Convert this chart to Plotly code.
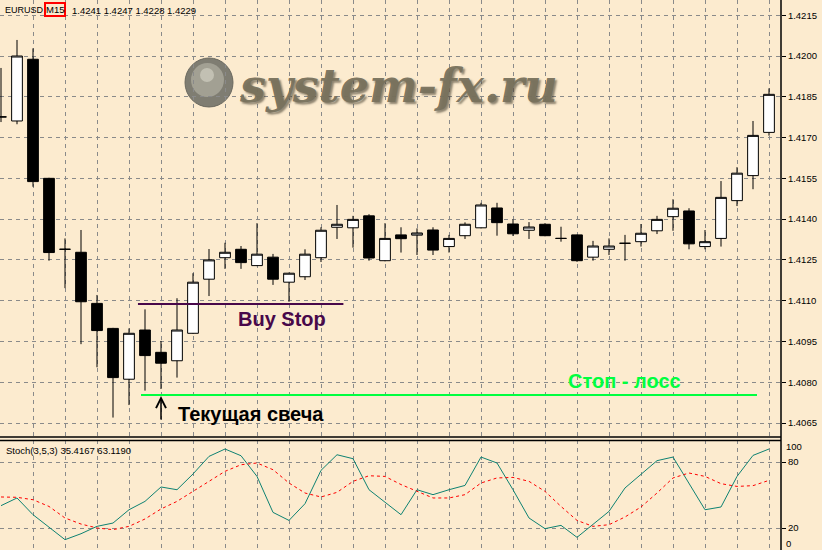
import plotly.graph_objects as go

# ---------------- data ----------------
candle_index = list(range(49))
opens = [1.41776, 1.41761, 1.41988, 1.41550, 1.41289, 1.41278, 1.41090, 1.40998, 1.40811, 1.40992,
         1.40910, 1.40879, 1.40980, 1.41179, 1.41258, 1.41289, 1.41229, 1.41260, 1.41168, 1.41188,
         1.41258, 1.41370, 1.41368, 1.41412, 1.41247, 1.41342, 1.41341, 1.41360, 1.41299, 1.41339,
         1.41368, 1.41441, 1.41382, 1.41359, 1.41381, 1.41329, 1.41342, 1.41260, 1.41289, 1.41311,
         1.41317, 1.41357, 1.41409, 1.41430, 1.41299, 1.41329, 1.41468, 1.41560, 1.41719]
highs = [1.41956, 1.42059, 1.42028, 1.41552, 1.41329, 1.41360, 1.41121, 1.41000, 1.40998, 1.41068,
         1.40952, 1.41109, 1.41201, 1.41290, 1.41313, 1.41301, 1.41385, 1.41272, 1.41203, 1.41289,
         1.41370, 1.41452, 1.41412, 1.41418, 1.41385, 1.41370, 1.41366, 1.41370, 1.41342, 1.41388,
         1.41460, 1.41460, 1.41399, 1.41389, 1.41385, 1.41372, 1.41343, 1.41320, 1.41329, 1.41342,
         1.41382, 1.41412, 1.41473, 1.41440, 1.41360, 1.41540, 1.41591, 1.41761, 1.41881]
lows = [1.41757, 1.41749, 1.41519, 1.41247, 1.41146, 1.40940, 1.40855, 1.40670, 1.40716, 1.40769,
        1.40775, 1.40817, 1.40978, 1.41117, 1.41217, 1.41217, 1.41227, 1.41158, 1.41096, 1.41176,
        1.41242, 1.41327, 1.41295, 1.41247, 1.41245, 1.41277, 1.41268, 1.41268, 1.41277, 1.41327,
        1.41366, 1.41339, 1.41338, 1.41327, 1.41337, 1.41317, 1.41243, 1.41247, 1.41268, 1.41247,
        1.41299, 1.41345, 1.41357, 1.41289, 1.41289, 1.41299, 1.41448, 1.41510, 1.41707]
closes = [1.41776, 1.42000, 1.41538, 1.41277, 1.41289, 1.41096, 1.40990, 1.40817, 1.40980, 1.40898,
          1.40870, 1.40992, 1.41168, 1.41250, 1.41278, 1.41240, 1.41271, 1.41179, 1.41201, 1.41271,
          1.41359, 1.41381, 1.41399, 1.41257, 1.41329, 1.41328, 1.41349, 1.41286, 1.41329, 1.41381,
          1.41452, 1.41387, 1.41346, 1.41371, 1.41339, 1.41329, 1.41247, 1.41301, 1.41301, 1.41311,
          1.41348, 1.41399, 1.41440, 1.41309, 1.41317, 1.41480, 1.41569, 1.41708, 1.41859]

stoch_main = [40.3, 47.3, 32.1, 20.9, 9.4, 14.8, 21.5, 24.5, 36.6, 44.2,
              57.3, 54.8, 69.1, 85.1, 91.8, 85.7, 66.9, 34.2, 26.9, 42.1,
              72.4, 86.6, 83.0, 54.8, 43.3, 32.1, 54.8, 50.3, 54.8, 58.7,
              84.5, 79.1, 54.8, 29.1, 19.4, 22.4, 11.5, 23.6, 35.1, 56.4,
              68.5, 81.2, 84.5, 60.9, 36.6, 39.1, 66.9, 86.0, 91.8]
stoch_signal = [48.2, 47.9, 45.7, 39.6, 29.1, 23.6, 20.0, 18.5, 21.5, 28.2,
                37.3, 44.2, 53.3, 62.4, 71.5, 77.5, 79.1, 73.0, 60.9, 51.8,
                48.2, 52.4, 62.4, 67.5, 66.9, 59.5, 53.3, 47.3, 47.3, 50.3,
                60.9, 65.5, 66.0, 62.4, 53.3, 39.6, 26.9, 21.5, 23.0, 30.0,
                39.1, 51.8, 65.5, 70.0, 66.9, 60.3, 57.8, 58.5, 63.3]

price_ticks = [1.4065, 1.4080, 1.4095, 1.4110, 1.4125, 1.4140, 1.4155, 1.4170, 1.4185, 1.4200, 1.4215]
price_tick_labels = ["1.4065", "1.4080", "1.4095", "1.4110", "1.4125", "1.4140",
                     "1.4155", "1.4170", "1.4185", "1.4200", "1.4215"]
stoch_ticks = [20, 80]
stoch_tick_labels = ["20", "80"]
x_grid = list(range(2, 49, 2))

buy_stop_level = 1.41088
buy_stop_span = (8.56, 21.4)
stop_loss_level = 1.40753
stop_loss_span = (8.75, 47.25)
current_candle = 10

header_symbol = "EURUSD"
header_tf = "M15"
header_prices = "1.4241 1.4247 1.4228 1.4229"
stoch_title = "Stoch(3,5,3) 35.4167 63.1190"

# ---------------- layout helpers ----------------
W, H = 822, 550
PLOT_W = 781
BG = "#FCEBCF"
GRID = "#8a8a8a"
FONT = "Liberation Sans"


def px(x):
    return x / PLOT_W


def py(y):
    return 1 - y / H


fig = go.Figure()

fig.add_trace(go.Candlestick(
    x=candle_index, open=opens, high=highs, low=lows, close=closes,
    increasing=dict(line=dict(color="black", width=1), fillcolor="white"),
    decreasing=dict(line=dict(color="black", width=1), fillcolor="black"),
    whiskerwidth=0, xaxis="x", yaxis="y", showlegend=False, hoverinfo="skip",
))

fig.add_trace(go.Scatter(
    x=candle_index, y=stoch_main, mode="lines",
    line=dict(color="#0E8272", width=1), xaxis="x2", yaxis="y2",
    showlegend=False, hoverinfo="skip",
))
fig.add_trace(go.Scatter(
    x=candle_index, y=stoch_signal, mode="lines",
    line=dict(color="#FF0000", width=1, dash="3px,3px"), xaxis="x2", yaxis="y2",
    showlegend=False, hoverinfo="skip",
))

xr = [-0.0625, 48.75]
common_x = dict(range=xr, tickvals=x_grid, showticklabels=False, showgrid=True,
                gridcolor=GRID, griddash="4px,4px", gridwidth=1, zeroline=False,
                showline=False, ticks="", fixedrange=True, automargin=False)

fig.update_layout(
    width=W, height=H,
    margin=dict(l=0, r=W - PLOT_W, t=0, b=0, autoexpand=False),
    paper_bgcolor=BG, plot_bgcolor=BG,
    boxgap=0.33, boxgroupgap=0,
    xaxis=dict(domain=[0, 1], anchor="y", rangeslider=dict(visible=False), **common_x),
    xaxis2=dict(domain=[0, 1], anchor="y2", **common_x),
    yaxis=dict(domain=[py(437), 1], range=[1.405985, 1.42206], side="right",
               tickvals=price_ticks, ticktext=price_tick_labels, automargin=False,
               showgrid=True, gridcolor=GRID, griddash="4px,4px", gridwidth=1,
               ticks="outside", ticklen=4, tickcolor="black", zeroline=False,
               tickfont=dict(family=FONT, size=9.5, color="black")),
    yaxis2=dict(domain=[0, py(440)], range=[0, 100], side="right",
                tickvals=stoch_ticks, ticktext=stoch_tick_labels, automargin=False,
                showgrid=True, gridcolor=GRID, griddash="4px,4px", gridwidth=1,
                ticks="outside", ticklen=4, tickcolor="black", zeroline=False,
                tickfont=dict(family=FONT, size=9.5, color="black")),
    font=dict(family=FONT),
)

shapes = []
# frame lines
shapes.append(dict(type="line", xref="paper", yref="paper", x0=1, x1=1, y0=0, y1=1,
                   line=dict(color="black", width=1.5)))
shapes.append(dict(type="line", xref="paper", yref="paper", x0=0, x1=1, y0=py(437), y1=py(437),
                   line=dict(color="black", width=1.5)))
shapes.append(dict(type="line", xref="paper", yref="paper", x0=0, x1=1, y0=py(440.5), y1=py(440.5),
                   line=dict(color="black", width=1.5)))
# Buy stop & stop loss lines
shapes.append(dict(type="line", xref="x", yref="y", x0=buy_stop_span[0], x1=buy_stop_span[1],
                   y0=buy_stop_level, y1=buy_stop_level, line=dict(color="#48084A", width=2)))
shapes.append(dict(type="line", xref="x", yref="y", x0=stop_loss_span[0], x1=stop_loss_span[1],
                   y0=stop_loss_level, y1=stop_loss_level, line=dict(color="#00FF40", width=2)))
# watermark globe
shapes.append(dict(type="circle", xref="paper", yref="paper", x0=px(185), x1=px(233),
                   y0=py(107), y1=py(58), layer="below", fillcolor="#7F7D72",
                   line=dict(color="#6c6a60", width=1)))
shapes.append(dict(type="circle", xref="paper", yref="paper", x0=px(191), x1=px(224),
                   y0=py(97), y1=py(63), layer="below", fillcolor="rgba(185,183,170,0.6)",
                   line=dict(width=0)))
shapes.append(dict(type="circle", xref="paper", yref="paper", x0=px(200), x1=px(214),
                   y0=py(82), y1=py(68), layer="below", fillcolor="rgba(215,213,200,0.6)",
                   line=dict(width=0)))
fig.update_layout(shapes=shapes)

ann = []
# header
ann.append(dict(xref="paper", yref="paper", x=px(4), y=py(10), xanchor="left", yanchor="middle",
                text=header_symbol, showarrow=False, borderpad=0,
                font=dict(family=FONT, size=9, color="black")))
ann.append(dict(xref="paper", yref="paper", x=px(44), y=py(9.5), xanchor="left", yanchor="middle",
                text=header_tf, showarrow=False, borderpad=0, bordercolor="#FF0000", borderwidth=2,
                font=dict(family=FONT, size=9.5, color="black")))
ann.append(dict(xref="paper", yref="paper", x=px(71), y=py(10), xanchor="left", yanchor="middle",
                text=header_prices, showarrow=False, borderpad=0,
                font=dict(family=FONT, size=9.5, color="black")))
ann.append(dict(xref="paper", yref="paper", x=px(4), y=py(450), xanchor="left", yanchor="middle",
                text=stoch_title, showarrow=False, font=dict(family=FONT, size=9.5, color="black")))
# stoch 100 / 0 labels
ann.append(dict(xref="paper", yref="y2", x=1, y=100, xanchor="left", yanchor="middle", xshift=3,
                yshift=-6, text="100", showarrow=False, font=dict(family=FONT, size=9.5, color="black")))
ann.append(dict(xref="paper", yref="y2", x=1, y=0, xanchor="left", yanchor="middle", xshift=3,
                yshift=7, text="0", showarrow=False, font=dict(family=FONT, size=9.5, color="black")))
# watermark
ann.append(dict(xref="paper", yref="paper", x=px(398), y=py(86), xanchor="center", yanchor="middle",
                text="<b><i>system-fx.ru</i></b>", showarrow=False,
                font=dict(family="DejaVu Serif", size=46, color="rgba(120,113,92,0.95)",
                          shadow="2px 2px 2px rgba(60,55,40,0.6)")))
# labels
ann.append(dict(xref="paper", yref="paper", x=px(236), y=py(319), xanchor="left", yanchor="middle",
                text="<b>Buy Stop</b>", showarrow=False,
                font=dict(family=FONT, size=20, color="#48084A")))
ann.append(dict(xref="paper", yref="paper", x=px(566), y=py(381), xanchor="left", yanchor="middle",
                text="<b>Стоп - лосс</b>", showarrow=False,
                font=dict(family=FONT, size=20, color="#00FF40")))
ann.append(dict(xref="paper", yref="paper", x=px(176), y=py(414), xanchor="left", yanchor="middle",
                text="<b>Текущая свеча</b>", showarrow=False,
                font=dict(family=FONT, size=20, color="black")))
# arrow to current candle
ann.append(dict(xref="x", yref="y", x=current_candle, y=stop_loss_level, ax=0, ay=26,
                axref="pixel", ayref="pixel", text="", showarrow=True, arrowhead=5,
                arrowsize=1.3, arrowwidth=1.5, arrowcolor="black", standoff=1))
fig.update_layout(annotations=ann)

fig.write_html("out.html", config={"displayModeBar": False},
               post_script="document.body.style.margin='0';document.body.style.overflow='hidden';")
